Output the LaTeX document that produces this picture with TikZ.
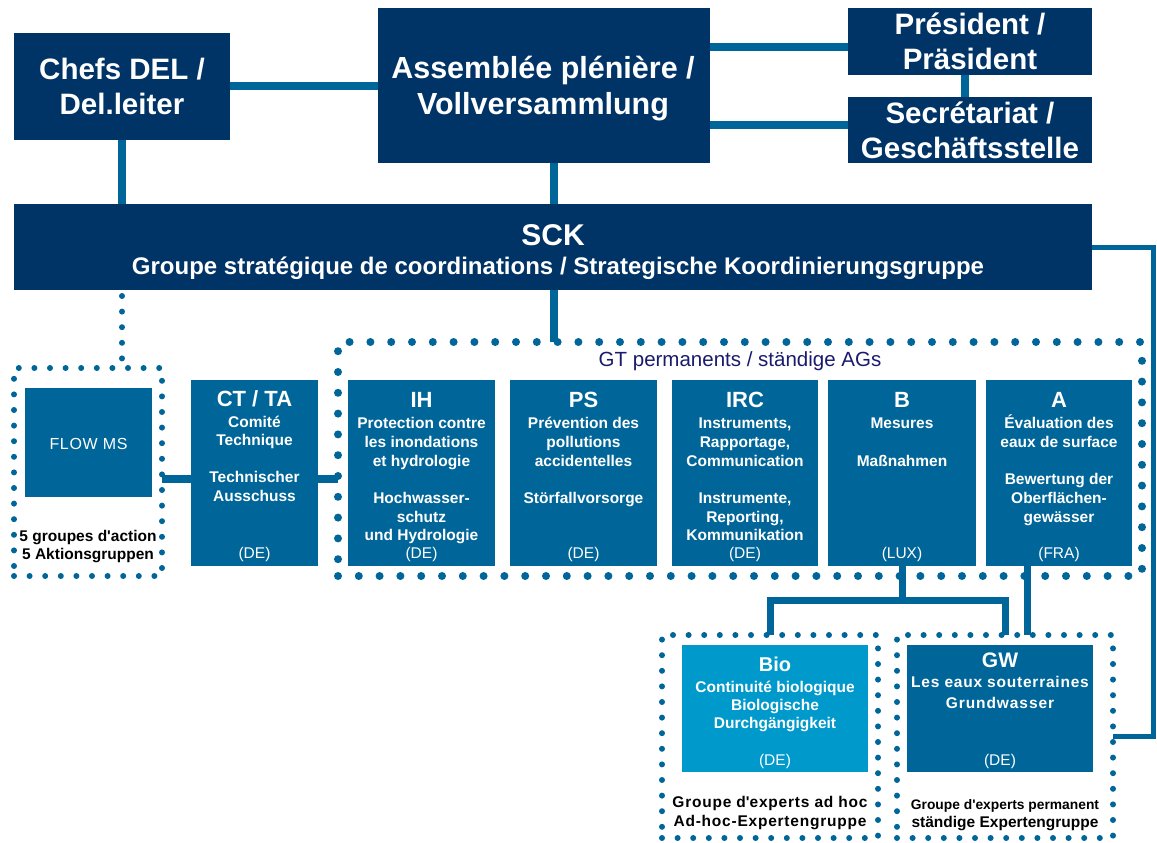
\documentclass[tikz,border=0pt]{standalone}
\usepackage{fontspec}
\setmainfont{Liberation Sans}
\newfontfamily\apf{Liberation Sans}
\usetikzlibrary{fit,calc}
\definecolor{cnavy}{HTML}{003366}
\definecolor{cmid}{HTML}{006699}
\definecolor{clight}{HTML}{0099CC}
\definecolor{cgt}{HTML}{1A1A6E}
\newcommand{\ml}[2]{\vtop{\baselineskip=#1\relax\lineskiplimit=-100pt\halign{\hfil##\hfil\cr#2\crcr}}}
\newcommand{\wgt}{\fontsize{22}{22}\selectfont}
\newcommand{\ap}{{\apf'}}
\begin{document}
\begin{tikzpicture}[x=1pt,y=-1pt,
  base/.style={inner sep=0pt, outer sep=0pt},
  nbox/.style={base, fill=cnavy},
  mbox/.style={base, fill=cmid},
  lbox/.style={base, fill=clight},
  conn/.style={draw=cmid, line width=8pt},
  bconn/.style={draw=cmid, line width=7pt},
  thinconn/.style={draw=cmid, line width=5pt},
  bigdots/.style={base, draw=cmid, line width=8pt, line cap=round, dash pattern=on 0pt off 20.8pt},
  smalldots/.style={base, draw=cmid, line width=6pt, line cap=round, dash pattern=on 0pt off 15.6pt},
  ttop/.style={base, anchor=base, text=white, font=\fontsize{29.5}{35}\selectfont\bfseries},
  tsck/.style={base, anchor=base, text=white, font=\fontsize{30}{36}\selectfont\bfseries},
  tsub/.style={base, anchor=base, text=white, font=\fontsize{24}{28}\selectfont\bfseries},
  tbody/.style={base, anchor=base, text=white, font=\fontsize{15.5}{18.7}\selectfont\bfseries},
  tcode/.style={base, anchor=base, text=white, font=\fontsize{15.5}{18.7}\selectfont},
  tflow/.style={base, anchor=base, text=white, font=\fontsize{16}{19}\selectfont\addfontfeature{LetterSpace=4}},
  tlab/.style={base, anchor=base, text=black, font=\fontsize{15.5}{18}\selectfont\bfseries},
  tgt/.style={base, anchor=base, text=cgt, font=\fontsize{20.5}{24}\selectfont}
]
\useasboundingbox (0,0) rectangle (1157,843);

% ---- top level boxes
\node[nbox, fit={(14,33)(230,140)}] (chefs) {};
\node[nbox, fit={(378,8)(710,163)}] (assem) {};
\node[nbox, fit={(848,8)(1092,75)}] (pres) {};
\node[nbox, fit={(848,97)(1092,163)}] (secr) {};
\node[nbox, fit={(14,204)(1092,290)}] (sck) {};

% ---- groups
\node[smalldots, fit={(14,368)(162,576)}] (flowgrp) {};
\node[bigdots, fit={(338,342)(1142,576)}] (gtgrp) {};
\node[smalldots, fit={(662,635)(878,838)}] (biogrp) {};
\node[smalldots, fit={(897,635)(1113,838)}] (gwgrp) {};

% ---- working boxes
\node[mbox, fit={(25,388)(152,497)}] (flow) {};
\node[mbox, fit={(191,380)(318,566)}] (ct) {};
\node[mbox, fit={(348,380)(495,566)}] (ih) {};
\node[mbox, fit={(510,380)(657,566)}] (ps) {};
\node[mbox, fit={(672,380)(818,566)}] (irc) {};
\node[mbox, fit={(828,380)(976,566)}] (b) {};
\node[mbox, fit={(986,380)(1132,566)}] (a) {};
\node[lbox, fit={(682,645)(868,772)}] (bio) {};
\node[mbox, fit={(907,645)(1093,772)}] (gw) {};

% ---- connectors
\draw[conn] (chefs.east) -- (chefs.east -| assem.west);
\coordinate (pj) at ([yshift=-5.5pt]pres.west);
\draw[conn] (pj -| assem.east) -- (pj);
\coordinate (sj) at ([yshift=5pt]secr.west);
\draw[conn] (sj -| assem.east) -- (sj);
\coordinate (psj) at ([xshift=-5pt]pres.south);
\draw[conn] (psj) -- (psj |- secr.north);
\draw[conn] (chefs.south) -- (chefs.south |- sck.north);
\coordinate (asj) at ([xshift=10pt]assem.south);
\draw[conn] (asj) -- (asj |- sck.north);
\draw[conn] (asj |- sck.south) -- (asj |- gtgrp.north);
\draw[smalldots] ([yshift=-6pt]chefs.south |- sck.south) -- (chefs.south |- flowgrp.north);
\coordinate (fcj) at ([yshift=-5.5pt]ct.west);
\draw[conn] (fcj -| flowgrp.east) -- (fcj);
\draw[conn] (fcj -| ct.east) -- (fcj -| gtgrp.west);
\coordinate (rc) at ($(sck.east)+(61,0)$);
\draw[thinconn] (sck.east) -- (rc) |- (gwgrp.east);
\coordinate (bj) at ($(b.south)+(0,34)$);
\draw[bconn] (b.south) -- (bj);
\draw[bconn] (biogrp.north) |- (bj) -| (gwgrp.north);
\coordinate (aj) at ([xshift=-32pt]a.south);
\draw[bconn] (aj) -- (aj |- gwgrp.north);

% ---- texts top
\node[ttop] (chefs-t) at (122,80) {\ml{35pt}{Chefs DEL /\cr Del.leiter}};
\node[ttop, font=\fontsize{30.5}{35}\selectfont\bfseries] (assem-t) at (543,79) {\ml{35.5pt}{Assemblée plénière /\cr Vollversammlung}};
\node[ttop] (pres-t) at (970,35) {\ml{35pt}{Président /\cr Präsident}};
\node[ttop] (secr-t) at (970,124) {\ml{35pt}{Secrétariat /\cr Geschäftsstelle}};
\node[tsck] (sck-t) at (553,245) {SCK};
\node[tsub] (sck-s) at (558,274) {Groupe stratégique de coordinations / Strategische Koordinierungsgruppe};

% ---- flow and CT
\node[tflow] (flow-t) at (88.5,449) {FLOW MS};
\node[tlab] (flowgrp-t) at (88,541) {\ml{18pt}{5 groupes d\ap action\cr 5 Aktionsgruppen}};
\node[tbody] (ct-t) at (254.5,406) {\ml{18.5pt}{{\wgt CT / TA}\cr\noalign{\vskip2.5pt}Comité\cr Technique\cr\cr Technischer\cr Ausschuss}};
\node[tcode] (ct-c) at (254.5,558) {(DE)};

% ---- GT
\node[tgt] (gt-t) at (740,366) {GT permanents / ständige AGs};
\node[tbody] (ih-t) at (421.5,407) {\ml{18.7pt}{{\wgt IH}\cr\noalign{\vskip3pt}Protection contre\cr les inondations\cr et hydrologie\cr\cr Hochwasser-\cr schutz\cr und Hydrologie}};
\node[tcode] (ih-c) at (421.5,558) {(DE)};
\node[tbody] (ps-t) at (583.5,407) {\ml{18.7pt}{{\wgt PS}\cr\noalign{\vskip3pt}Prévention des\cr pollutions\cr accidentelles\cr\cr Störfallvorsorge}};
\node[tcode] (ps-c) at (583.5,558) {(DE)};
\node[tbody] (irc-t) at (745,407) {\ml{18.7pt}{{\wgt IRC}\cr\noalign{\vskip3pt}Instruments,\cr Rapportage,\cr Communication\cr\cr Instrumente,\cr Reporting,\cr Kommunikation}};
\node[tcode] (irc-c) at (745,558) {(DE)};
\node[tbody] (b-t) at (902,407) {\ml{18.7pt}{{\wgt B}\cr\noalign{\vskip3pt}Mesures\cr\cr Maßnahmen}};
\node[tcode] (b-c) at (902,558) {(LUX)};
\node[tbody] (a-t) at (1059,407) {\ml{18.7pt}{{\wgt A}\cr\noalign{\vskip3pt}Évaluation des\cr eaux de surface\cr\cr Bewertung der\cr Oberflächen-\cr gewässer}};
\node[tcode] (a-c) at (1059,558) {(FRA)};

% ---- bottom
\node[tbody] (bio-t) at (775,671) {\ml{18.3pt}{{\fontsize{20}{20}\selectfont Bio}\cr\noalign{\vskip2.7pt}Continuité biologique\cr Biologische\cr Durchgängigkeit}};
\node[tcode] (bio-c) at (775,765) {(DE)};
\node[tbody] (gw-t) at (1000,667) {\ml{20.5pt}{{\fontsize{21}{21}\selectfont GW}\cr {\addfontfeature{LetterSpace=5}Les eaux souterraines}\cr {\addfontfeature{LetterSpace=6}Grundwasser}}};
\node[tcode] (gw-c) at (1000,765) {(DE)};
\node[tlab] (biogrp-t) at (770,807) {\ml{19pt}{{\addfontfeature{LetterSpace=5}Groupe d\ap experts ad hoc}\cr {\addfontfeature{LetterSpace=5}Ad-hoc-Expertengruppe}}};
\node[tlab] (gwgrp-t) at (1005,809) {\ml{18pt}{{\fontsize{13.8}{16}\selectfont Groupe d\ap experts permanent}\cr ständige Expertengruppe}};
\end{tikzpicture}
\end{document}
